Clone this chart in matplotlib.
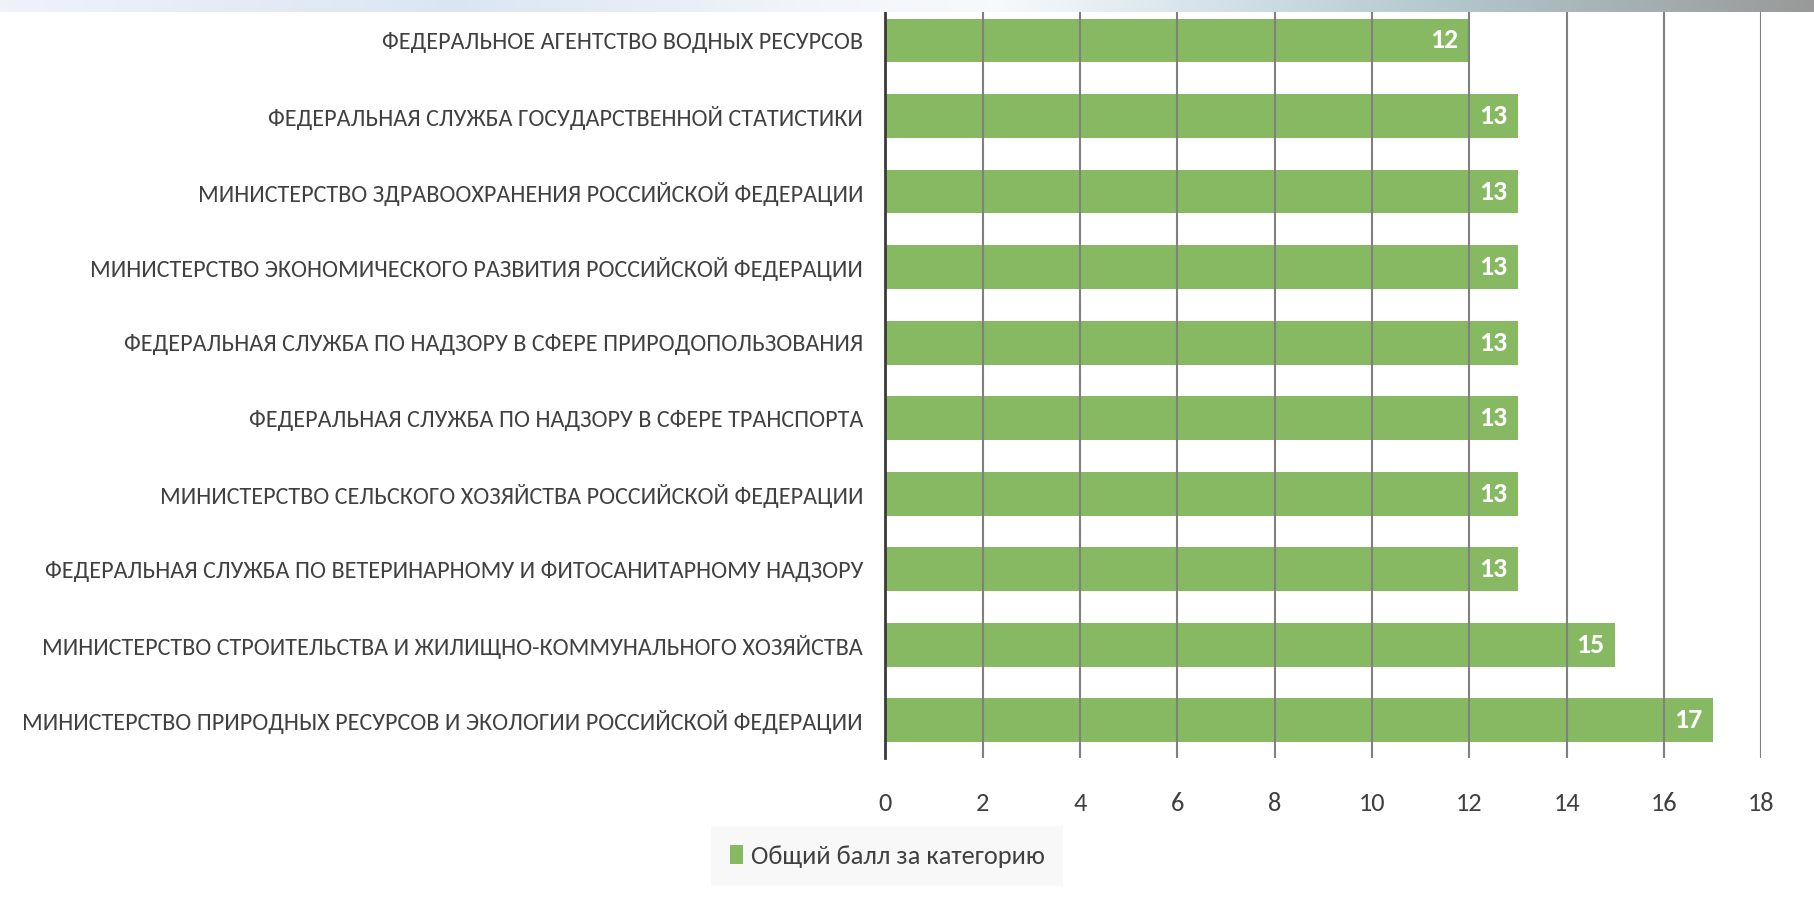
import numpy as np
import matplotlib.pyplot as plt
from matplotlib.patches import Patch

# Data (top to bottom)
categories = [
    "ФЕДЕРАЛЬНОЕ АГЕНТСТВО ВОДНЫХ РЕСУРСОВ",
    "ФЕДЕРАЛЬНАЯ СЛУЖБА ГОСУДАРСТВЕННОЙ СТАТИСТИКИ",
    "МИНИСТЕРСТВО ЗДРАВООХРАНЕНИЯ РОССИЙСКОЙ ФЕДЕРАЦИИ",
    "МИНИСТЕРСТВО ЭКОНОМИЧЕСКОГО РАЗВИТИЯ РОССИЙСКОЙ ФЕДЕРАЦИИ",
    "ФЕДЕРАЛЬНАЯ СЛУЖБА ПО НАДЗОРУ В СФЕРЕ ПРИРОДОПОЛЬЗОВАНИЯ",
    "ФЕДЕРАЛЬНАЯ СЛУЖБА ПО НАДЗОРУ В СФЕРЕ ТРАНСПОРТА",
    "МИНИСТЕРСТВО СЕЛЬСКОГО ХОЗЯЙСТВА РОССИЙСКОЙ ФЕДЕРАЦИИ",
    "ФЕДЕРАЛЬНАЯ СЛУЖБА ПО ВЕТЕРИНАРНОМУ И ФИТОСАНИТАРНОМУ НАДЗОРУ",
    "МИНИСТЕРСТВО СТРОИТЕЛЬСТВА И ЖИЛИЩНО-КОММУНАЛЬНОГО ХОЗЯЙСТВА",
    "МИНИСТЕРСТВО ПРИРОДНЫХ РЕСУРСОВ И ЭКОЛОГИИ РОССИЙСКОЙ ФЕДЕРАЦИИ",
]
scores = [12, 13, 13, 13, 13, 13, 13, 13, 15, 17]
series_name = "Общий балл за категорию"
xticks = [0, 2, 4, 6, 8, 10, 12, 14, 16, 18]

GREEN = "#87b962"
TEXT = "#404040"

plt.rcParams["font.family"] = ["Carlito", "DejaVu Sans"]

fig = plt.figure(figsize=(18.14, 9.08), dpi=100)

ax = fig.add_axes([0.488, 0.165, 0.483, 0.832])
y = np.arange(len(categories))
bars = ax.barh(y, scores, height=0.58, color=GREEN, zorder=2)
ax.set_ylim(len(categories) - 0.5, -0.5)
ax.set_xlim(0, 18)
ax.set_xticks(xticks)
ax.set_yticks(y)
ax.set_yticklabels(categories, fontsize=17.4, color=TEXT)
ax.tick_params(axis="y", length=0, pad=16)
ax.tick_params(axis="x", length=0, pad=24, labelsize=19, labelcolor=TEXT)

ax.grid(axis="x", color=(0.5, 0.5, 0.5, 0.2), linewidth=1.5, zorder=3)
ax.set_axisbelow(False)
for s in ["top", "right", "bottom"]:
    ax.spines[s].set_visible(False)
ax.spines["left"].set_color("#3a3a3a")
ax.spines["left"].set_linewidth(2)
ax.spines["left"].set_zorder(4)

for b, v in zip(bars, scores):
    ax.text(b.get_width() - 0.22, b.get_y() + b.get_height() / 2, str(v),
            ha="right", va="center", color="white", fontsize=20,
            fontweight="bold", zorder=5)

leg = fig.legend(handles=[Patch(facecolor=GREEN, edgecolor="none", label=series_name)],
                 loc="center", bbox_to_anchor=(0.489, 0.057), fontsize=19,
                 frameon=True, fancybox=False, handlelength=0.5, handleheight=0.75,
                 handletextpad=0.3, borderpad=0.7, labelcolor=TEXT)
leg.get_frame().set_facecolor("#f7f7f7")
leg.get_frame().set_edgecolor("none")

# decorative gradient strip at the top of the slide
band = fig.add_axes([0, 1 - 12 / 908, 1, 12 / 908])
stops = [0.0, 0.25, 0.45, 0.55, 0.7, 0.8, 1.0]
cols = np.array([
    [0.94, 0.95, 0.98],
    [0.86, 0.90, 0.95],
    [0.95, 0.96, 0.98],
    [0.97, 0.98, 0.99],
    [0.80, 0.86, 0.89],
    [0.70, 0.78, 0.80],
    [0.60, 0.60, 0.60],
])
xs = np.linspace(0, 1, 600)
grad = np.stack([np.interp(xs, stops, cols[:, c]) for c in range(3)], axis=-1)
band.imshow(grad[None, :, :], aspect="auto", extent=[0, 1, 0, 1])
band.set_axis_off()

fig.savefig("out.png", dpi=100)
